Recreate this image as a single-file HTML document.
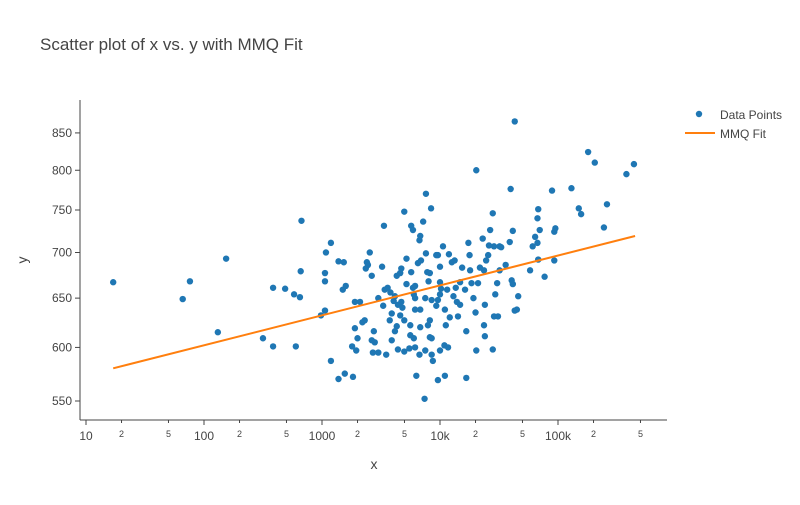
<!DOCTYPE html>
<html><head><meta charset="utf-8"><style>
body{margin:0;background:#fff;font-family:"Liberation Sans",sans-serif}
svg text{font-family:"Liberation Sans",sans-serif;fill:#444}
</style></head><body>
<svg id="chart" width="800" height="500" xmlns="http://www.w3.org/2000/svg">
<text x="40" y="50" font-size="17">Scatter plot of x vs. y with MMQ Fit</text>
<g id="axes"></g><g id="marks"></g>
<text x="374" y="469" font-size="14" text-anchor="middle">x</text>
<text x="0" y="0" font-size="14" text-anchor="middle" transform="translate(27,260) rotate(-90)">y</text>
<g>
<circle cx="699" cy="114" r="3.2" fill="#1f77b4"/>
<text x="720" y="119" font-size="12">Data Points</text>
<line x1="685" y1="133" x2="715" y2="133" stroke="#ff7f0e" stroke-width="2"/>
<text x="720" y="138" font-size="12">MMQ Fit</text>
</g>
</svg>
<script>
const xValues=[17,66,76,131,154,316,385,385,487,580,600,650,660,670,980,1060,1060,1060,1190,1190,1080,1380,1530,1380,1830,1500,1590,1900,2100,1900,2000,2300,2400,2540,2450,2350,2640,2640,2800,3000,3300,3350,3230,2750,2700,3000,3500,3400,3600,3800,3750,3900,4050,4150,4300,4600,4700,4700,4600,4400,4300,4980,5200,5200,5700,5900,5700,5900,6000,6150,6150,5600,5500,4980,4400,6150,6300,6700,6800,6500,6700,6800,7200,7400,7600,8400,7600,7800,8000,7900,8200,8500,8700,9600,9300,9600,10000,10000,9600,10600,11000,11200,11700,12100,12600,13300,13600,13900,14200,14800,15400,16700,16700,17400,18500,19200,20000,20300,20300,21000,23000,24000,23600,24000,24600,25600,26600,28000,28700,28700,31000,28000,32000,33000,36000,39000,40500,41400,39700,43000,43000,44800,46000,58000,61000,64000,67000,67000,68000,68000,70000,77000,89000,93000,95000,93000,130000,150000,157000,180000,205000,245000,260000,380000,440000,41400,32000,11900,10200,11500,6900,7500,8500,4980,3900,1950,2200,1560,1800,8200,10000,13000,14800,18000,21800,4150,6800,11000,16300,8200,6150,4800,9300,17800,23600,26000,29400,30500,6000,7500,8500,10000,10900,5600];
const yValues=[667,649,668,615,693,609,601,661,660,654,601,651,679,737,632,637,668,677,711,587,700,690,689,570,572,659,663,646,646,619,609,627,689,700,686,682,674,607,605,650,642,731,684,616,595,595,593,659,661,656,627,634,647,652,674,677,682,646,632,643,621,748,665,693,731,726,678,661,654,650,663,622,599,596,598,600,573,593,620,688,714,719,736,552,770,752,699,678,668,622,610,593,587,569,642,648,667,684,697,707,573,622,600,630,689,691,661,646,631,667,683,571,616,711,666,650,635,597,800,666,716,643,622,611,691,697,726,746,707,631,631,598,680,706,686,712,669,665,776,866,637,638,652,680,707,718,740,711,751,692,726,673,774,724,728,691,777,752,745,824,810,729,757,795,808,725,707,698,660,659,691,650,648,627,607,597,625,575,601,677,654,652,643,680,683,616,638,638,659,627,638,640,697,697,680,708,654,666,609,597,609,597,602,612];
const fitX=[17,450000];
const fitY=[580,719];
const yTicks=[550,600,650,700,750,800,850];
const xMajor=[10,100,1000,10000,100000];
const xMajorLabels=["10","100","1000","10k","100k"];
const xMinor=[20,50,200,500,2000,5000,20000,50000,200000,500000];
const xMinorLabels=["2","5","2","5","2","5","2","5","2","5"];

const NS="http://www.w3.org/2000/svg";
const X=v=>86+(Math.log10(v)-1)*118;
const Y=v=>401-(Math.log10(v)-Math.log10(550))*1418;
function mk(tag,attrs,parent){const e=document.createElementNS(NS,tag);for(const k in attrs)e.setAttribute(k,attrs[k]);parent.appendChild(e);return e;}
const axes=document.getElementById('axes'),marks=document.getElementById('marks');
let l=mk('line',{x1:80,y1:100,x2:80,y2:420,stroke:'#444','stroke-width':1},axes);


l=mk('line',{x1:80,y1:420,x2:667,y2:420,stroke:'#444','stroke-width':1},axes);


yTicks.forEach(v=>{const y=Y(v);
 const t=mk('line',{x1:75,y1:y,x2:80,y2:y,stroke:'#444'},axes);
 
 
 const tx=mk('text',{x:72,y:y+4,'font-size':12,'text-anchor':'end'},axes);tx.textContent=v;
 
 
});
xMajor.forEach((v,i)=>{const x=X(v);
 const t=mk('line',{x1:x,y1:420,x2:x,y2:425,stroke:'#444'},axes);
 
 
 const tx=mk('text',{x:x,y:440,'font-size':12,'text-anchor':'middle'},axes);tx.textContent=xMajorLabels[i];
 
 
});
xMinor.forEach((v,i)=>{const x=X(v);
 const t=mk('line',{x1:x,y1:420,x2:x,y2:423,stroke:'#444'},axes);
 
 
 const tx=mk('text',{x:x,y:437,'font-size':9,'text-anchor':'middle'},axes);tx.textContent=xMinorLabels[i];
 
 
});
xValues.forEach((v,i)=>{
 const c=mk('circle',{cx:X(v),cy:Y(yValues[i]),r:3.2,fill:'#1f77b4'},marks);
 
 
});
const fl=mk('line',{x1:X(fitX[0]),y1:Y(fitY[0]),x2:X(fitX[1]),y2:Y(fitY[1]),stroke:'#ff7f0e','stroke-width':2},marks);


</script>
</body></html>
